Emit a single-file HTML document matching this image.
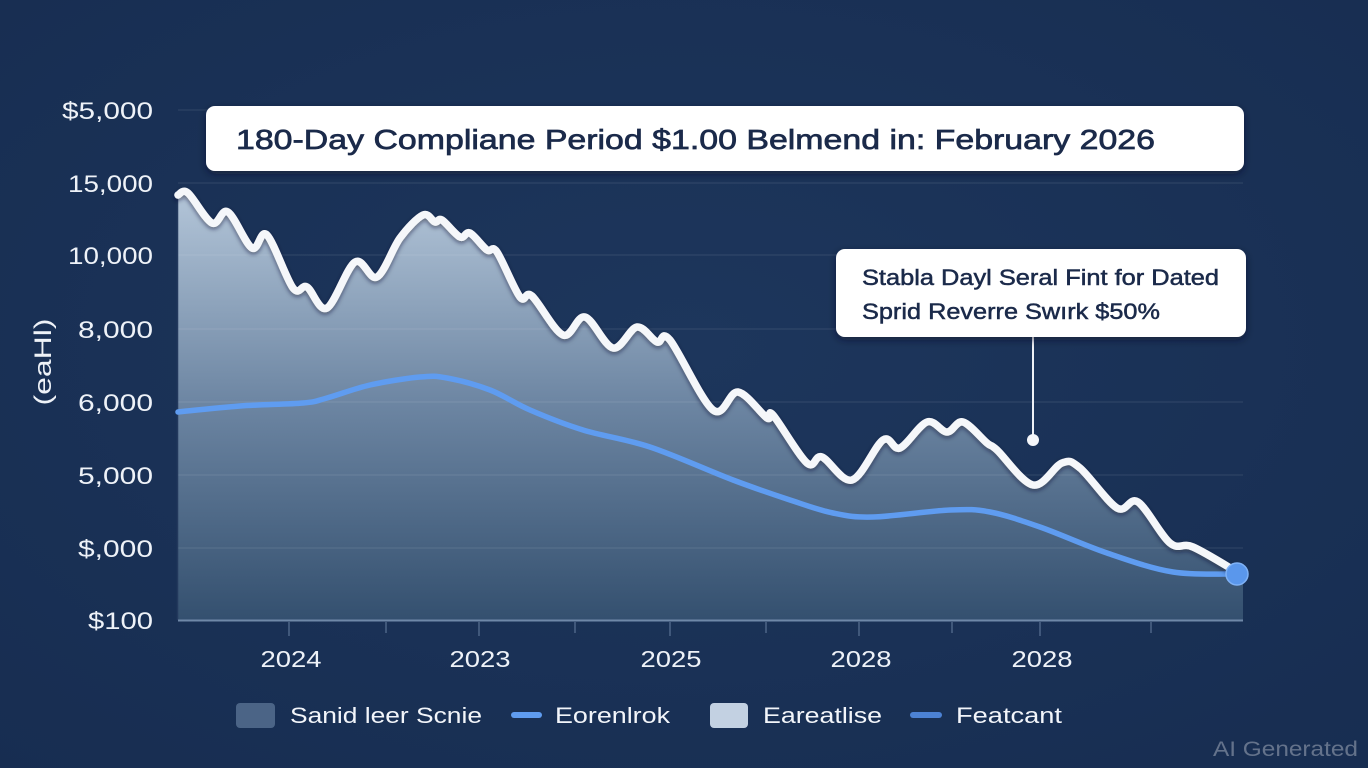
<!DOCTYPE html>
<html><head><meta charset="utf-8">
<style>
html,body{margin:0;padding:0;background:#1a3156;}
body{width:1368px;height:768px;overflow:hidden;}
svg{display:block;}
text{font-family:"Liberation Sans",sans-serif;}
</style></head>
<body>
<svg id="s" width="1368" height="768" viewBox="0 0 1368 768" xmlns="http://www.w3.org/2000/svg">
<defs>
<radialGradient id="bg" cx="0.5" cy="0.45" r="0.75">
<stop offset="0" stop-color="#1d365c"/>
<stop offset="1" stop-color="#172d51"/>
</radialGradient>
<linearGradient id="fill" x1="0" y1="190" x2="0" y2="620" gradientUnits="userSpaceOnUse">
<stop offset="0" stop-color="#b4c6d9"/>
<stop offset="0.5" stop-color="#6c85a2"/>
<stop offset="1" stop-color="#34506f"/>
</linearGradient>
<filter id="sh" x="-5%" y="-5%" width="110%" height="120%">
<feDropShadow dx="0" dy="2" stdDeviation="2.5" flood-color="#0a1630" flood-opacity="0.55"/>
</filter>
<filter id="bsh" x="-5%" y="-20%" width="110%" height="150%">
<feDropShadow dx="0" dy="3" stdDeviation="4" flood-color="#08142c" flood-opacity="0.55"/>
</filter>
</defs>
<rect width="1368" height="768" fill="url(#bg)"/>

<path id="area" fill="url(#fill)" d="M178,195 L188,193 L212,223 L228,212 L252,248 L267,235 L293,288 L307,287 L327,308 L355,262 L377,277 L400,238 L423,215 L435,222 L442,220 L460,237 L470,233 L487,250 L497,252 L520,297 L532,296 L563,335 L585,317 L613,348 L637,327 L657,342 L670,340 L713,410 L738,392 L767,418 L773,415 L807,463 L822,457 L852,480 L883,440 L900,448 L927,422 L947,432 L963,422 L987,443 L997,450 L1033,485 L1062,463 L1080,468 L1117,508 L1138,502 L1170,543 L1193,547 L1237,572 L1243,576 L1243,620 L178,620 Z"/>

<g stroke="#ffffff" stroke-opacity="0.09" stroke-width="1.2">
<line x1="178" y1="110" x2="1243" y2="110"/>
<line x1="178" y1="183" x2="1243" y2="183"/>
<line x1="178" y1="255" x2="1243" y2="255"/>
<line x1="178" y1="329" x2="1243" y2="329"/>
<line x1="178" y1="402" x2="1243" y2="402"/>
<line x1="178" y1="475" x2="1243" y2="475"/>
<line x1="178" y1="548" x2="1243" y2="548"/>
</g>
<line x1="177.5" y1="190" x2="177.5" y2="620" stroke="#23395d" stroke-width="1.5"/>
<line x1="178" y1="620.5" x2="1243" y2="620.5" stroke="#6f88a8" stroke-width="2"/>
<g stroke="#5a7294" stroke-width="1.2">
<line x1="289" y1="622" x2="289" y2="636"/>
<line x1="386" y1="622" x2="386" y2="633"/>
<line x1="479" y1="622" x2="479" y2="636"/>
<line x1="575" y1="622" x2="575" y2="633"/>
<line x1="670" y1="622" x2="670" y2="636"/>
<line x1="766" y1="622" x2="766" y2="633"/>
<line x1="859" y1="622" x2="859" y2="636"/>
<line x1="952" y1="622" x2="952" y2="633"/>
<line x1="1040" y1="622" x2="1040" y2="636"/>
<line x1="1151" y1="622" x2="1151" y2="633"/>
</g>

<path id="blue" fill="none" stroke="#5f9cf0" stroke-width="5.5" stroke-linecap="round" stroke-linejoin="round" d="M178,412 L240,406 L303,403 L327,398 L370,385 L420,377 L447,378 L490,390 L530,410 L583,430 L650,447 L733,480 L790,500 L833,513 L873,517 L950,510 L990,512 L1040,527 L1107,553 L1173,572 L1237,574"/>

<path id="white" fill="none" stroke="#f5f7fa" stroke-width="7.5" stroke-linecap="round" stroke-linejoin="round" filter="url(#sh)" d=""/>

<circle cx="1237" cy="574" r="11" fill="#5a97ec" stroke="#7fb2f6" stroke-width="1.5"/>

<line x1="1033" y1="336" x2="1033" y2="436" stroke="#eef1f6" stroke-width="2"/>
<circle cx="1033" cy="440" r="6" fill="#f4f6fa"/>
<rect x="836" y="249" width="410" height="88" rx="9" fill="#ffffff" filter="url(#bsh)"/>
<text x="862" y="285" font-size="22" fill="#1b2a4a" stroke="#1b2a4a" stroke-width="0.5" textLength="357" lengthAdjust="spacingAndGlyphs">Stabla Dayl Seral Fint for Dated</text>
<text x="862" y="319" font-size="22" fill="#1b2a4a" stroke="#1b2a4a" stroke-width="0.5" textLength="298" lengthAdjust="spacingAndGlyphs">Sprid  Reverre Swırk $50%</text>

<rect x="206" y="106" width="1038" height="65" rx="9" fill="#ffffff" filter="url(#bsh)"/>
<text x="236" y="149" font-size="28" fill="#1b2a4a" stroke="#1b2a4a" stroke-width="0.7" textLength="919" lengthAdjust="spacingAndGlyphs">180-Day Compliane Period $1.00 Belmend in: February 2026</text>

<g font-size="24" fill="#eef2f8" text-anchor="end">
<text x="153" y="119" textLength="91" lengthAdjust="spacingAndGlyphs">$5,000</text>
<text x="153" y="192" textLength="85" lengthAdjust="spacingAndGlyphs">15,000</text>
<text x="153" y="264" textLength="85" lengthAdjust="spacingAndGlyphs">10,000</text>
<text x="153" y="338" textLength="75" lengthAdjust="spacingAndGlyphs">8,000</text>
<text x="153" y="411" textLength="75" lengthAdjust="spacingAndGlyphs">6,000</text>
<text x="153" y="484" textLength="75" lengthAdjust="spacingAndGlyphs">5,000</text>
<text x="153" y="557" textLength="75" lengthAdjust="spacingAndGlyphs">$,000</text>
<text x="153" y="629" textLength="65" lengthAdjust="spacingAndGlyphs">$100</text>
</g>
<text transform="translate(51,362) rotate(-90)" font-size="24" fill="#eef2f8" text-anchor="middle" textLength="87" lengthAdjust="spacingAndGlyphs">(eaHl)</text>

<g font-size="23" fill="#eef2f8" text-anchor="middle">
<text x="291" y="667" textLength="61" lengthAdjust="spacingAndGlyphs">2024</text>
<text x="480" y="667" textLength="61" lengthAdjust="spacingAndGlyphs">2023</text>
<text x="671" y="667" textLength="61" lengthAdjust="spacingAndGlyphs">2025</text>
<text x="861" y="667" textLength="61" lengthAdjust="spacingAndGlyphs">2028</text>
<text x="1042" y="667" textLength="61" lengthAdjust="spacingAndGlyphs">2028</text>
</g>

<rect x="236" y="703" width="39" height="25" rx="4" fill="#4b6486"/>
<text x="290" y="723" font-size="22" fill="#f2f5fa" textLength="192" lengthAdjust="spacingAndGlyphs">Sanid leer Scnie</text>
<line x1="514" y1="715" x2="539" y2="715" stroke="#5f9cf0" stroke-width="6" stroke-linecap="round"/>
<text x="555" y="723" font-size="22" fill="#f2f5fa" textLength="115" lengthAdjust="spacingAndGlyphs">Eorenlrok</text>
<rect x="710" y="703" width="38" height="25" rx="4" fill="#c3d1e2"/>
<text x="763" y="723" font-size="22" fill="#f2f5fa" textLength="119" lengthAdjust="spacingAndGlyphs">Eareatlise</text>
<line x1="913" y1="715" x2="939" y2="715" stroke="#4c82d4" stroke-width="6" stroke-linecap="round"/>
<text x="956" y="723" font-size="22" fill="#f2f5fa" textLength="106" lengthAdjust="spacingAndGlyphs">Featcant</text>

<text x="1213" y="756" font-size="21" fill="#ffffff" fill-opacity="0.33" textLength="145" lengthAdjust="spacingAndGlyphs">AI Generated</text>
</svg>
<script>
(function(){
var W=[[178,195],[188,193],[212,223],[228,212],[252,248],[267,235],[293,288],[307,287],[327,308],[355,262],[377,277],[400,238],[423,215],[435,222],[442,220],[460,237],[470,233],[487,250],[497,252],[520,297],[532,296],[563,335],[585,317],[613,348],[637,327],[657,342],[670,340],[713,410],[738,392],[767,418],[773,415],[807,463],[822,457],[852,480],[883,440],[900,448],[927,422],[947,432],[963,422],[987,443],[997,450],[1033,485],[1062,463],[1080,468],[1117,508],[1138,502],[1170,543],[1193,547],[1237,572]];
var B=[[178,412],[240,406],[303,403],[327,398],[370,385],[420,377],[447,378],[490,390],[530,410],[583,430],[650,447],[733,480],[790,500],[833,513],[873,517],[950,510],[990,512],[1040,527],[1107,553],[1173,572],[1237,574]];
function cr(p){
var d="M"+p[0][0]+","+p[0][1];
for(var i=0;i<p.length-1;i++){
var p0=p[i-1]||p[i],p1=p[i],p2=p[i+1],p3=p[i+2]||p2;
var c1x=p1[0]+(p2[0]-p0[0])/6,c1y=p1[1]+(p2[1]-p0[1])/6;
var c2x=p2[0]-(p3[0]-p1[0])/6,c2y=p2[1]-(p3[1]-p1[1])/6;
d+=" C"+c1x.toFixed(1)+","+c1y.toFixed(1)+" "+c2x.toFixed(1)+","+c2y.toFixed(1)+" "+p2[0]+","+p2[1];
}
return d;}
var wd=cr(W);
document.getElementById("white").setAttribute("d",wd);
document.getElementById("area").setAttribute("d",wd+" L1243,576 L1243,620 L178,620 Z");
document.getElementById("blue").setAttribute("d",cr(B));
})();
</script>
<script>
(function(){var w=document.getElementById("white");if(!w.getAttribute("d")){var d=document.getElementById("area").getAttribute("d").split(" L1243")[0];w.setAttribute("d",d);}})();
</script>
</body></html>
